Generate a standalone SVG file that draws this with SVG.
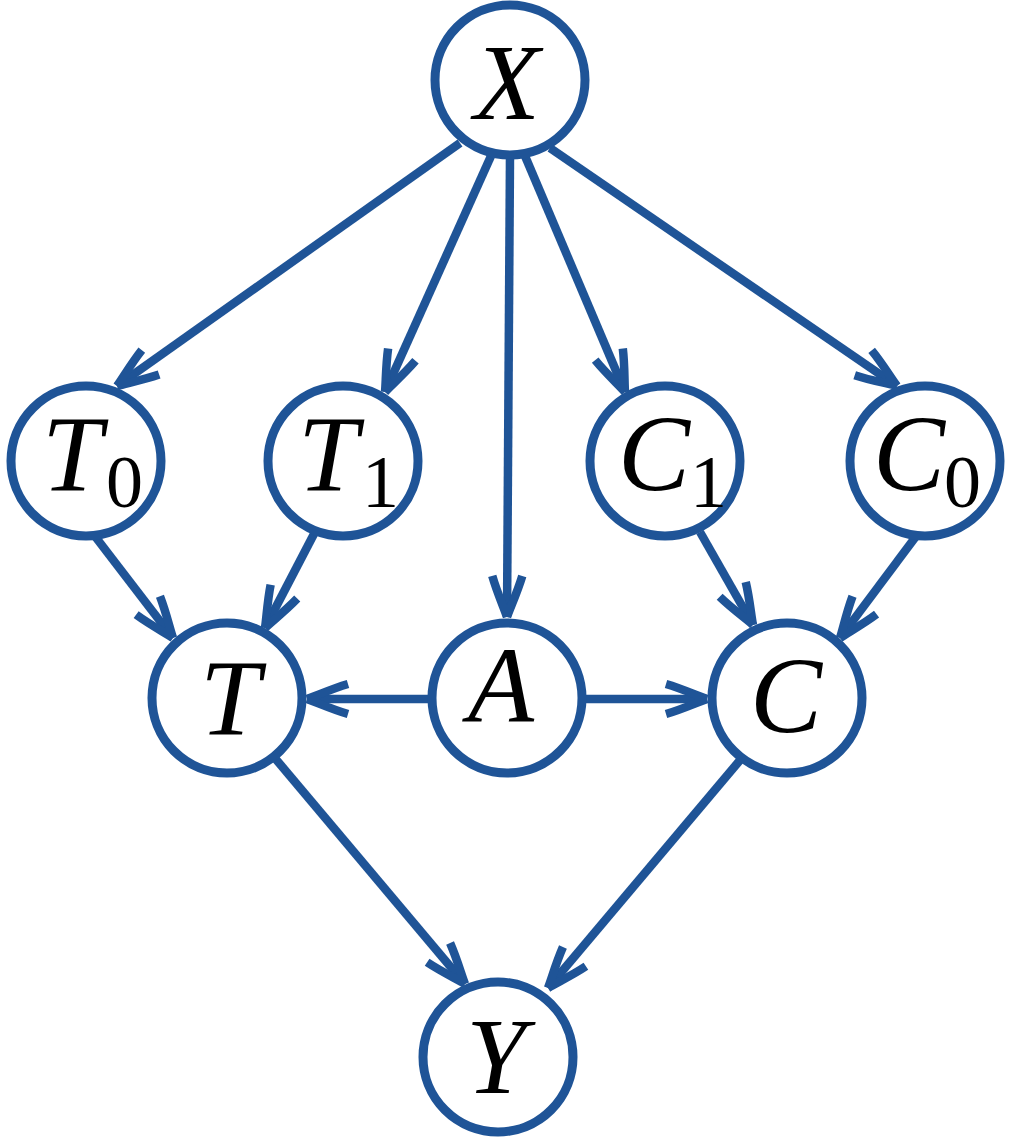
<svg xmlns="http://www.w3.org/2000/svg" width="1014" height="1148" viewBox="0 0 1014 1148">
<defs>
<style>
.edge{stroke:#1f5497;stroke-width:8.5;fill:none;marker-end:url(#arr)}
.node circle{fill:#fff;stroke:#1f5497;stroke-width:9}
.lbl{font-family:"Liberation Serif","Times New Roman",serif;font-style:italic;font-size:108px;fill:#000}
.sub{font-style:normal;font-size:74px}
</style>
<marker id="arr" markerUnits="userSpaceOnUse" viewBox="-50 -25 60 50" markerWidth="60" markerHeight="50" refX="0" refY="0" orient="auto" overflow="visible">
<path d="M -41,-15 C -24,-10 -9,-3 0,0 M -41,15 C -24,10 -9,3 0,0" fill="none" stroke="#1f5497" stroke-width="8.5"/>
</marker>
</defs>
<rect width="1014" height="1148" fill="#fff"/>
<g id="edges">
<line class="edge" x1="460" y1="143" x2="117" y2="386"/>
<line class="edge" x1="491" y1="156" x2="385" y2="392"/>
<line class="edge" x1="510" y1="156" x2="507" y2="617"/>
<line class="edge" x1="525" y1="156" x2="625" y2="392"/>
<line class="edge" x1="550" y1="148" x2="897" y2="386"/>
<line class="edge" x1="94" y1="535" x2="173" y2="638"/>
<line class="edge" x1="315" y1="532" x2="265" y2="628"/>
<line class="edge" x1="700" y1="532" x2="753" y2="625"/>
<line class="edge" x1="917" y1="535" x2="840" y2="638"/>
<line class="edge" x1="434" y1="699" x2="307" y2="699"/>
<line class="edge" x1="581" y1="699" x2="707" y2="699"/>
<line class="edge" x1="274" y1="757" x2="465" y2="984"/>
<line class="edge" x1="741" y1="759" x2="548" y2="988"/>
</g>
<g id="X" class="node"><circle cx="510" cy="80" r="75"/><text class="lbl" x="474" y="119">X</text></g>
<g id="T0" class="node"><circle cx="86" cy="461" r="75"/><text class="lbl" x="42" y="490">T<tspan class="sub" x="106" y="507">0</tspan></text></g>
<g id="T1" class="node"><circle cx="343" cy="461" r="75"/><text class="lbl" x="298" y="490">T<tspan class="sub" x="362" y="507">1</tspan></text></g>
<g id="C1" class="node"><circle cx="665" cy="461" r="75"/><text class="lbl" x="618" y="490">C<tspan class="sub" x="690" y="507">1</tspan></text></g>
<g id="C0" class="node"><circle cx="925" cy="461" r="75"/><text class="lbl" x="873" y="490">C<tspan class="sub" x="944" y="507">0</tspan></text></g>
<g id="T" class="node"><circle cx="227" cy="698" r="75"/><text class="lbl" x="200" y="734">T</text></g>
<g id="A" class="node"><circle cx="507" cy="698" r="75"/><text class="lbl" x="468" y="722">A</text></g>
<g id="C" class="node"><circle cx="787" cy="698" r="75"/><text class="lbl" x="750" y="732">C</text></g>
<g id="Y" class="node"><circle cx="498" cy="1057" r="75"/><text class="lbl" x="466" y="1093">Y</text></g>
</svg>
